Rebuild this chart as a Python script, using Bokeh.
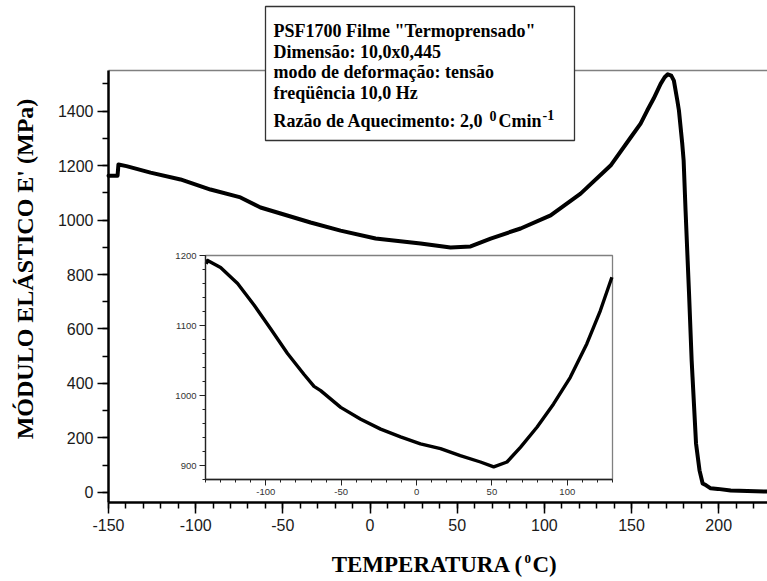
import math
from bokeh.plotting import figure
from bokeh.models import (LinearAxis, SingleIntervalTicker, FixedTicker, Label,
                          BoxAnnotation, Range1d, CustomJSTickFormatter)
from bokeh.embed import file_html
from bokeh.resources import INLINE

# ---------------- data ----------------
temp_main = [-150, -144.8, -144.3, -139.7, -125.9, -108.7, -91.5, -74.3, -62.8,
             -51.3, -34.1, -16.9, 3.2, 29, 46.2, 57.7, 69.2, 86.4, 103.6, 120.8,
             138, 149.5, 155.2, 159, 162.7, 166.7, 169, 170.8, 172.8, 174.3,
             176.3, 177.2, 179.1, 179.9, 181, 182.2, 183, 184.5, 185, 187, 189,
             190.8, 192.8, 195.4, 199.5, 206.9, 228]
modulus_main = [1163, 1163, 1204, 1198, 1174, 1149, 1112, 1083, 1046,
                1024, 991, 961, 932, 914, 899, 903, 932, 969, 1017, 1097,
                1200, 1303, 1354, 1402, 1446, 1500, 1524, 1535, 1530, 1512,
                1438, 1402, 1280, 1218, 1035, 851, 730, 484, 423, 180, 81,
                33, 26, 15, 13, 7, 3]

temp_inset = [-139.5, -138.6, -130, -118.7, -107.7, -96.7, -85.6, -74.6, -68,
              -63.6, -50.3, -37, -23.8, -10.6, 2.6, 15.9, 29, 42.4, 51.2, 60,
              68.9, 80, 90.9, 102, 113, 121.9, 129.6]
modulus_inset = [1188, 1193, 1183, 1160, 1129, 1095, 1060, 1030, 1013,
                 1007, 983, 966, 952, 941, 931, 924, 914, 905, 898, 905,
                 926, 955, 988, 1026, 1074, 1121, 1169]

main_x_limits = (-150, 228)
main_y_limits = (-37, 1549)
inset_x_limits = (-140, 130)
inset_y_limits = (880, 1200)

info_lines = ['PSF1700 Filme "Termoprensado"',
              'Dimensão: 10,0x0,445',
              'modo de deformação: tensão',
              'freqüência 10,0 Hz']
rate_text = ['Razão de Aquecimento: 2,0', '0', 'Cmin', '-1']
x_label_parts = ['TEMPERATURA (', '0', 'C)']
y_label_text = "MÓDULO ELÁSTICO E' (MPa)"

SERIF = "Liberation Serif"
SANS = "Liberation Sans"

W, H = 767, 581

# page-pixel placement of the two plotting boxes
M_LEFT, M_TOP, M_BOTTOM, M_RIGHT = 108, 70, 502, 767
I_LEFT, I_TOP, I_BOTTOM, I_RIGHT = 205, 255, 479, 612


def full_range(lo, hi, p_lo, p_hi, total, invert=False):
    """range over the whole canvas so that [lo, hi] spans pixels [p_lo, p_hi]"""
    scale = (hi - lo) / (p_hi - p_lo)
    if not invert:
        return Range1d(lo - p_lo * scale, hi + (total - p_hi) * scale)
    return Range1d(lo - (total - p_hi) * scale, hi + p_lo * scale)


main = figure(width=W, height=H,
              x_range=full_range(*main_x_limits, M_LEFT, M_RIGHT, W),
              y_range=full_range(*main_y_limits, M_TOP, M_BOTTOM, H, True),
              x_axis_location=None, y_axis_location=None,
              min_border=0, output_backend="svg", toolbar_location=None,
              outline_line_color=None, background_fill_color="white",
              border_fill_color="white")
main.grid.visible = False
main.extra_x_ranges = {"ix": full_range(*inset_x_limits, I_LEFT, I_RIGHT, W)}
main.extra_y_ranges = {"iy": full_range(*inset_y_limits, I_TOP, I_BOTTOM, H, True)}

plain_fmt = CustomJSTickFormatter(code="return String(Math.round(tick));")


def style_axis(ax, width, color, tick_out, minor_out, font_size, label_color,
               standoff, tick_width):
    ax.axis_line_width = width
    ax.axis_line_color = color
    ax.major_tick_line_width = tick_width
    ax.minor_tick_line_width = tick_width
    ax.major_tick_line_color = color
    ax.minor_tick_line_color = color
    ax.major_tick_in = 0
    ax.major_tick_out = tick_out
    ax.minor_tick_in = 0
    ax.minor_tick_out = minor_out
    ax.major_label_text_font = SANS
    ax.major_label_text_font_size = font_size
    ax.major_label_text_color = label_color
    ax.major_label_standoff = standoff
    ax.formatter = plain_fmt


# ---- main axes ----
m_left = LinearAxis(fixed_location=main_x_limits[0], bounds=main_y_limits,
                    ticker=SingleIntervalTicker(interval=200, num_minor_ticks=2))
style_axis(m_left, 2.5, "black", 11, 6, "16px", "#1a1a1a", 4, 1.5)
main.add_layout(m_left, "left")

m_bottom = LinearAxis(fixed_location=main_y_limits[0], bounds=main_x_limits,
                      ticker=SingleIntervalTicker(interval=50, num_minor_ticks=5))
style_axis(m_bottom, 2.5, "black", 11, 6, "16px", "#1a1a1a", 5, 1.5)
main.add_layout(m_bottom, "below")

m_top = LinearAxis(fixed_location=main_y_limits[1], bounds=main_x_limits,
                   ticker=FixedTicker(ticks=[], minor_ticks=[]),
                   axis_line_color="#808080", axis_line_width=1.5)
main.add_layout(m_top, "above")

# ---- inset frame, curve and axes ----
inset_bg = BoxAnnotation(left=inset_x_limits[0], right=inset_x_limits[1],
                         bottom=inset_y_limits[0], top=inset_y_limits[1],
                         x_range_name="ix", y_range_name="iy",
                         fill_color="white", fill_alpha=1.0,
                         line_color="#808080", line_alpha=1.0, line_width=1.3,
                         level="underlay")
main.add_layout(inset_bg)

main.line(temp_main, modulus_main, line_width=4.0, color="black",
          line_join="round", line_cap="round")
main.line(temp_inset, modulus_inset, line_width=3.4, color="black",
          line_join="round", x_range_name="ix", y_range_name="iy")

i_left = LinearAxis(x_range_name="ix", y_range_name="iy",
                    fixed_location=inset_x_limits[0], bounds=inset_y_limits,
                    ticker=SingleIntervalTicker(interval=100, num_minor_ticks=5))
style_axis(i_left, 1.3, "#222222", 6, 3, "9.5px", "#333333", 3, 1.0)
main.add_layout(i_left, "left")

i_bottom = LinearAxis(x_range_name="ix", y_range_name="iy",
                      fixed_location=inset_y_limits[0], bounds=inset_x_limits,
                      ticker=SingleIntervalTicker(interval=50, num_minor_ticks=5))
style_axis(i_bottom, 1.3, "#222222", 6, 3, "9.5px", "#333333", 3, 1.0)
main.add_layout(i_bottom, "below")


# ---- texts (screen units: x from left, y from bottom of the canvas) ----
def add_text(text, px, py, size, align="left", angle=0.0):
    # px, py: wanted baseline point on the page; Bokeh draws the baseline
    # about 0.39*size lower than the anchor, so the anchor is raised.
    shift = 0.39 * size
    if angle:
        px = px - shift
    else:
        py = py - shift
    main.add_layout(Label(x=px, y=H - py, x_units="screen", y_units="screen",
                          text=text, angle=angle, text_font=SERIF,
                          text_font_style="bold", text_font_size=f"{size}px",
                          text_align=align, text_baseline="alphabetic",
                          text_color="black"))


add_text(y_label_text, 34, 268.5, 24, align="center", angle=math.pi / 2)

add_text(x_label_parts[0], 523, 573, 23, align="right")
add_text(x_label_parts[1], 524, 564, 13)
add_text(x_label_parts[2], 532, 573, 23)

box = BoxAnnotation(left=265, right=574, top=H - 6, bottom=H - 140,
                    left_units="screen", right_units="screen",
                    top_units="screen", bottom_units="screen",
                    fill_color="white", fill_alpha=1.0,
                    line_color="#333333", line_alpha=1.0, line_width=1.3)
main.add_layout(box)

for txt, base in zip(info_lines, [38, 59, 79, 100]):
    add_text(txt, 273, base, 18)

rate_pos = [(273, 128, 18), (489, 121, 14), (498, 128, 18), (542, 120, 14)]
for txt, (px, py, fs) in zip(rate_text, rate_pos):
    add_text(txt, px, py, fs)

with open("out.html", "w") as f:
    f.write(file_html(main, INLINE))
